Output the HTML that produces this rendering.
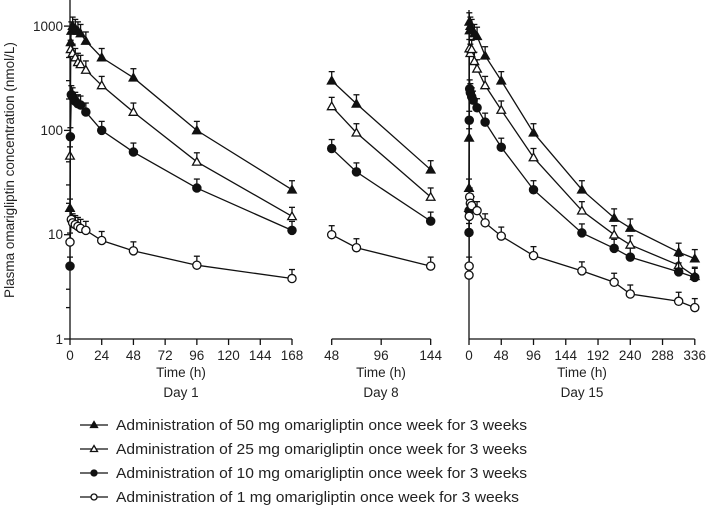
<!DOCTYPE html>
<html><head><meta charset="utf-8"><style>
body{margin:0;background:#fff;}
svg{display:block;font-family:"Liberation Sans","DejaVu Sans",sans-serif;}
</style></head><body>
<svg id="s" width="709" height="508" viewBox="0 0 709 508" xmlns="http://www.w3.org/2000/svg">
<g font-size="13.5" fill="#222" text-anchor="end">
<text x="63" y="31">1000</text>
<text x="63" y="135">100</text>
<text x="63" y="239">10</text>
<text x="63" y="344">1</text>
</g>
<text transform="translate(14,170) rotate(-90)" font-size="13.5" fill="#222" text-anchor="middle">Plasma omarigliptin concentration (nmol/L)</text>
<g font-size="13.5" fill="#222" text-anchor="middle">
<text x="70" y="360">0</text><text x="101.7" y="360">24</text><text x="133.4" y="360">48</text><text x="165.1" y="360">72</text><text x="196.8" y="360">96</text><text x="228.5" y="360">120</text><text x="260.2" y="360">144</text><text x="292" y="360">168</text>
<text x="331.7" y="360">48</text><text x="381.2" y="360">96</text><text x="430.7" y="360">144</text>
<text x="469" y="360">0</text><text x="501.2" y="360">48</text><text x="533.5" y="360">96</text><text x="565.7" y="360">144</text><text x="598" y="360">192</text><text x="630.2" y="360">240</text><text x="662.5" y="360">288</text><text x="694.7" y="360">336</text>
<text x="181" y="377">Time (h)</text><text x="381" y="377">Time (h)</text><text x="582" y="377">Time (h)</text>
<text x="181" y="397">Day 1</text><text x="381" y="397">Day 8</text><text x="582" y="397">Day 15</text>
</g>
<g font-size="15" fill="#222">
<text x="116" y="430" textLength="411" lengthAdjust="spacingAndGlyphs">Administration of 50 mg omarigliptin once week for 3 weeks</text>
<text x="116" y="454" textLength="411" lengthAdjust="spacingAndGlyphs">Administration of 25 mg omarigliptin once week for 3 weeks</text>
<text x="116" y="478" textLength="411" lengthAdjust="spacingAndGlyphs">Administration of 10 mg omarigliptin once week for 3 weeks</text>
<text x="116" y="502" textLength="403" lengthAdjust="spacingAndGlyphs">Administration of 1 mg omarigliptin once week for 3 weeks</text>
</g>
<g id="g" stroke="#111" stroke-width="1.3" fill="none"></g>
</svg>
<script>
var g=document.getElementById('g'),NS='http://www.w3.org/2000/svg';
function el(t,a){var e=document.createElementNS(NS,t);for(var k in a)e.setAttribute(k,a[k]);g.appendChild(e);return e;}
function Y(v){return 339-104.3*Math.log10(v);}
el('line',{x1:70,y1:0,x2:70,y2:339});
el('line',{x1:70,y1:339,x2:292,y2:339});
el('line',{x1:331.7,y1:339,x2:430.7,y2:339});
el('line',{x1:469,y1:339,x2:694.7,y2:339});
el('line',{x1:469,y1:10,x2:469,y2:339});
[1,10,100,1000].forEach(function(v){el('line',{x1:64,y1:Y(v),x2:70,y2:Y(v)});});
[2,3,5,20,30,50,200,300,500].forEach(function(v){el('line',{x1:66,y1:Y(v),x2:70,y2:Y(v)});});
[0,24,48,72,96,120,144,168].forEach(function(t){var x=70+t*1.3214;el('line',{x1:x,y1:339,x2:x,y2:345});});
[48,96,144].forEach(function(t){var x=331.7+(t-48)*1.031;el('line',{x1:x,y1:339,x2:x,y2:345});});
for(var t=0;t<=336;t+=48){var x=469+t*0.672;el('line',{x1:x,y1:339,x2:x,y2:345});}
var P1=function(t){return 70+t*1.3214},P2=function(t){return 331.7+(t-48)*1.031},P3=function(t){return 469+t*0.672};
var S=[
[P1,0,[[0,18],[0.5,700],[1,900],[2,1000],[4,950],[6,900],[8,850],[12,720],[24,500],[48,320],[96,100],[168,27]]],
[P1,1,[[0,57],[0.5,600],[2,550],[4,500],[6,450],[8,430],[12,380],[24,270],[48,150],[96,50],[168,15]]],
[P1,2,[[0,5],[0.3,87],[1,220],[2,210],[4,190],[6,180],[8,175],[12,150],[24,100],[48,62],[96,28],[168,11]]],
[P1,3,[[0,8.5],[1,14],[2,13],[4,12.5],[6,12],[8,11.5],[12,11],[24,8.8],[48,7],[96,5.1],[168,3.8]]],
[P2,0,[[48,300],[72,180],[144,42]]],
[P2,1,[[48,170],[72,95],[144,23]]],
[P2,2,[[48,67],[72,40],[144,13.5]]],
[P2,3,[[48,10],[72,7.5],[144,5]]],
[P3,0,[[0,28],[0.2,85],[0.5,1100],[1,910],[2,1000],[4,950],[8,850],[12,800],[24,520],[48,300],[96,95],[168,27],[216,14.5],[240,11.6],[312,6.8],[336,5.9]]],
[P3,1,[[0,18],[0.5,610],[2,550],[4,600],[8,460],[12,390],[24,270],[48,157],[96,55],[168,17],[216,10],[240,8],[312,5.1],[336,4.0]]],
[P3,2,[[0,10.5],[0.2,17],[0.4,125],[1,250],[2,230],[4,210],[6,195],[12,165],[24,120],[48,69],[96,27],[168,10.4],[216,7.4],[240,6.1],[312,4.4],[336,3.9]]],
[P3,3,[[0,4.1],[0.2,5],[0.4,15],[1,23],[2,20],[4,19],[12,17],[24,13],[48,9.7],[96,6.3],[168,4.5],[216,3.5],[240,2.7],[312,2.3],[336,2.0]]]
];
function mark(k,x,y){
 if(k<2){el('path',{d:'M'+x+','+(y-4.3)+'L'+(x+4.3)+','+(y+3.3)+'L'+(x-4.3)+','+(y+3.3)+'Z',fill:k==0?'#111':'#fff'});}
 else el('circle',{cx:x,cy:y,r:4.1,fill:k==2?'#111':'#fff'});
}
S.forEach(function(s){
 var f=s[0],k=s[1],d=s[2],pts=d.map(function(p){return [f(p[0]),Y(p[1])];});
 el('polyline',{points:pts.map(function(p){return p.join(',')}).join(' ')});
 pts.forEach(function(p){var e=p[1]-9;el('line',{x1:p[0],y1:p[1],x2:p[0],y2:e});el('line',{x1:p[0]-3,y1:e,x2:p[0]+3,y2:e});});
 pts.forEach(function(p){mark(k,p[0],p[1]);});
});
[425,449,473,497].forEach(function(y,i){el('line',{x1:80,y1:y,x2:108,y2:y});
 if(i<2)el('path',{d:'M94,'+(y-3.5)+'L97.5,'+(y+2.5)+'L90.5,'+(y+2.5)+'Z',fill:i==0?'#111':'#fff'});
 else el('circle',{cx:94,cy:y,r:3,fill:i==2?'#111':'#fff'});});
</script>
</body></html>
